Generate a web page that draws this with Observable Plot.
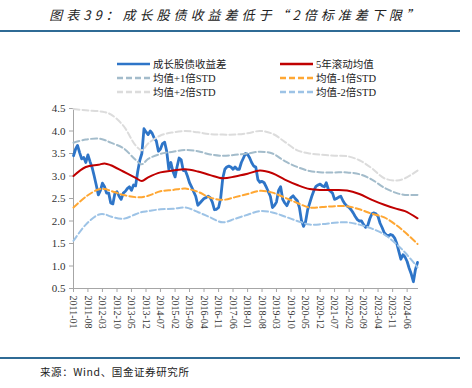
<!DOCTYPE html>
<html><head><meta charset="utf-8">
<script src="https://cdn.jsdelivr.net/npm/d3@7"></script>
<script src="https://cdn.jsdelivr.net/npm/@observablehq/plot@0.6"></script>
<style>
body{margin:0;background:#fff;}
#wrap{position:relative;width:472px;height:388px;overflow:hidden;font-family:"Noto Sans CJK SC",sans-serif;background:#fff;}
#title{position:absolute;left:0;width:472px;top:5px;text-align:center;font-size:13px;font-style:italic;letter-spacing:4px;color:#222;white-space:nowrap;}
.rule{position:absolute;left:0;width:460px;height:2px;background:#2f6b95;}
#src{position:absolute;left:40px;top:364px;font-size:10.5px;color:#222;letter-spacing:0.6px;white-space:nowrap;}
#legend{position:absolute;left:0;top:50px;}
#chart{position:absolute;left:0;top:100px;}
</style>
</head><body>
<div id="wrap">
  <div id="title">图表39：成长股债收益差低于“2倍标准差下限”</div>
  <div class="rule" style="top:30px"></div>
  <div id="legend"></div>
  <div id="chart"></div>
  <div class="rule" style="top:357px"></div>
  <div id="src">来源：Wind、国金证券研究所</div>
</div>
<script>
// ---- data ----
const spreadStart = "2011-01";
const spread = [3.45,3.6,3.68,3.52,3.38,3.41,3.3,3.47,3.32,3.19,3.0,2.8,2.58,2.68,2.84,2.76,2.62,2.62,2.4,2.38,
2.62,2.65,2.55,2.48,2.62,2.66,2.72,2.76,2.68,2.8,2.78,3.1,3.35,3.5,4.05,3.98,3.92,4.0,3.95,3.84,
3.78,3.55,3.6,3.72,3.75,3.55,3.15,3.3,3.1,2.98,3.2,3.4,3.36,3.12,3.12,3.0,2.85,2.76,2.65,2.55,
2.35,2.4,2.45,2.5,2.52,2.55,2.52,2.42,2.25,2.26,2.3,2.5,2.95,3.15,3.2,3.22,3.2,3.15,3.2,3.15,
3.15,3.3,3.4,3.5,3.48,3.4,3.3,3.22,3.2,2.92,2.86,2.88,2.85,2.76,2.65,2.55,2.3,2.35,2.42,2.68,
2.76,2.48,2.4,2.34,2.45,2.52,2.56,2.5,2.45,2.3,2.02,1.88,1.98,2.25,2.4,2.55,2.68,2.77,2.8,2.82,
2.78,2.76,2.85,2.7,2.66,2.62,2.48,2.5,2.53,2.55,2.45,2.38,2.33,2.3,2.25,2.18,2.1,2.03,2.0,2.0,
1.92,1.86,1.9,2.05,2.16,2.18,2.16,2.1,1.95,1.85,1.74,1.69,1.67,1.7,1.68,1.62,1.5,1.32,1.15,1.25,
1.2,1.1,0.95,0.82,0.65,0.92,1.08];

const bandDates = ["2011-01","2011-07","2012-01","2012-04","2012-07","2013-01","2013-07","2013-10","2014-01","2014-07",
"2015-01","2015-07","2016-01","2016-07","2017-01","2017-07","2018-01","2018-07","2019-01","2019-07",
"2020-01","2020-07","2021-01","2021-07","2022-01","2022-07","2023-01","2023-07","2024-01","2024-05","2024-11"];
const mean5y = [3.0,3.2,3.25,3.28,3.24,3.1,2.96,2.89,2.97,3.08,3.12,3.15,3.1,3.02,2.95,2.99,3.05,3.12,3.06,2.92,
2.8,2.71,2.69,2.69,2.68,2.6,2.47,2.36,2.27,2.22,2.06];
const plus1 = [3.74,3.81,3.83,3.8,3.74,3.62,3.36,3.26,3.38,3.49,3.54,3.58,3.55,3.48,3.45,3.47,3.5,3.54,3.5,3.33,
3.2,3.11,3.08,3.08,3.08,3.04,2.92,2.74,2.62,2.58,2.58];
const plus2 = [4.49,4.46,4.44,4.42,4.37,4.12,3.68,3.57,3.72,3.9,3.97,4.0,3.97,3.93,3.92,3.92,3.95,4.0,3.94,3.76,
3.57,3.5,3.47,3.45,3.44,3.35,3.17,2.95,2.9,2.95,3.12];
const minus1 = [2.3,2.54,2.7,2.71,2.67,2.58,2.53,2.53,2.56,2.66,2.69,2.72,2.65,2.52,2.47,2.53,2.6,2.67,2.63,2.52,
2.4,2.3,2.31,2.33,2.33,2.26,2.16,2.08,1.9,1.75,1.49];
const minus2 = [1.56,1.92,2.14,2.15,2.1,2.05,2.15,2.2,2.22,2.26,2.27,2.3,2.2,2.08,1.97,2.05,2.14,2.22,2.19,2.1,
2.0,1.92,1.93,1.96,1.97,1.92,1.83,1.7,1.48,1.3,0.97];

const xTickLabels = ["2011-01","2011-08","2012-03","2012-10","2013-05","2013-12","2014-07","2015-02","2015-09","2016-04",
"2016-11","2017-06","2018-01","2018-08","2019-03","2019-10","2020-05","2020-12","2021-07","2022-02","2022-09",
"2023-04","2023-11","2024-06"];
const yTicks = [0.5,1,1.5,2,2.5,3,3.5,4,4.5];

const seriesNames = ["成长股债收益差","5年滚动均值","均值+1倍STD","均值-1倍STD","均值+2倍STD","均值-2倍STD"];
const seriesColors = ["#2e75c8","#c00000","#a3bccb","#ffa733","#dcdcdc","#9dc3e6"];
const seriesDash = [null,null,"6,3","6,3","6,3","6,3"];

// ---- build ----
const parseM = d3.utcParse("%Y-%m");
const start = parseM(spreadStart);
const spreadData = spread.map((v,i)=>({date:d3.utcMonth.offset(start,i), v}));
const band = arr => arr.map((v,i)=>({date:parseM(bandDates[i]), v}));
const xTicks = xTickLabels.map(parseM);

const gray = "#a6a6a6";
const chart = Plot.plot({
  width: 472, height: 240,
  marginLeft: 73, marginRight: 54, marginTop: 8, marginBottom: 52,
  style: {fontFamily: '"Liberation Serif", "Times New Roman", serif', fontSize: "11px", color: "#333", background: "transparent"},
  x: {type: "utc", domain: [parseM("2011-01"), new Date(Date.UTC(2024,10,15))]},
  y: {domain: [0.5, 4.5]},
  marks: [
    Plot.axisY({ticks: yTicks, tickSize: 4, tickPadding: 4, stroke: gray, fill: "#333", fontSize: 11, label: null}),
    Plot.axisX({ticks: xTicks, tickFormat: d3.utcFormat("%Y-%m"), tickRotate: 90, tickSize: 4, tickPadding: 3, stroke: gray, fill: "#333", fontSize: 10, label: null}),
    Plot.ruleX([parseM("2011-01")], {stroke: gray}),
    Plot.ruleY([0.5], {stroke: gray}),
    Plot.line(spreadData, {x: "date", y: "v", stroke: seriesColors[0], strokeWidth: 2.8}),
    Plot.line(band(mean5y), {x: "date", y: "v", stroke: seriesColors[1], strokeWidth: 2, curve: "catmull-rom"}),
    Plot.line(band(plus2), {x: "date", y: "v", stroke: seriesColors[4], strokeWidth: 2, strokeDasharray: "6,3", curve: "catmull-rom"}),
    Plot.line(band(plus1), {x: "date", y: "v", stroke: seriesColors[2], strokeWidth: 2, strokeDasharray: "6,3", curve: "catmull-rom"}),
    Plot.line(band(minus1), {x: "date", y: "v", stroke: seriesColors[3], strokeWidth: 2, strokeDasharray: "6,3", curve: "catmull-rom"}),
    Plot.line(band(minus2), {x: "date", y: "v", stroke: seriesColors[5], strokeWidth: 2, strokeDasharray: "6,3", curve: "catmull-rom"})
  ]
});
document.getElementById("chart").appendChild(chart);

// legend
const lg = d3.select("#legend").append("svg").attr("width", 472).attr("height", 50);
const pos = [[117,14],[280,14],[117,28],[280,28],[117,42],[280,42]];
seriesNames.forEach((n,i)=>{
  const [x,y] = pos[i];
  lg.append("line").attr("x1",x).attr("x2",x+33).attr("y1",y).attr("y2",y)
    .attr("stroke",seriesColors[i]).attr("stroke-width",2.5)
    .attr("stroke-dasharray",seriesDash[i]);
  lg.append("text").attr("x",x+36).attr("y",y).attr("dy","0.35em")
    .attr("font-family",'"Liberation Serif", "Noto Sans CJK SC", serif').attr("font-size",10.5).attr("fill","#222").text(n);
});
</script>
</body></html>
